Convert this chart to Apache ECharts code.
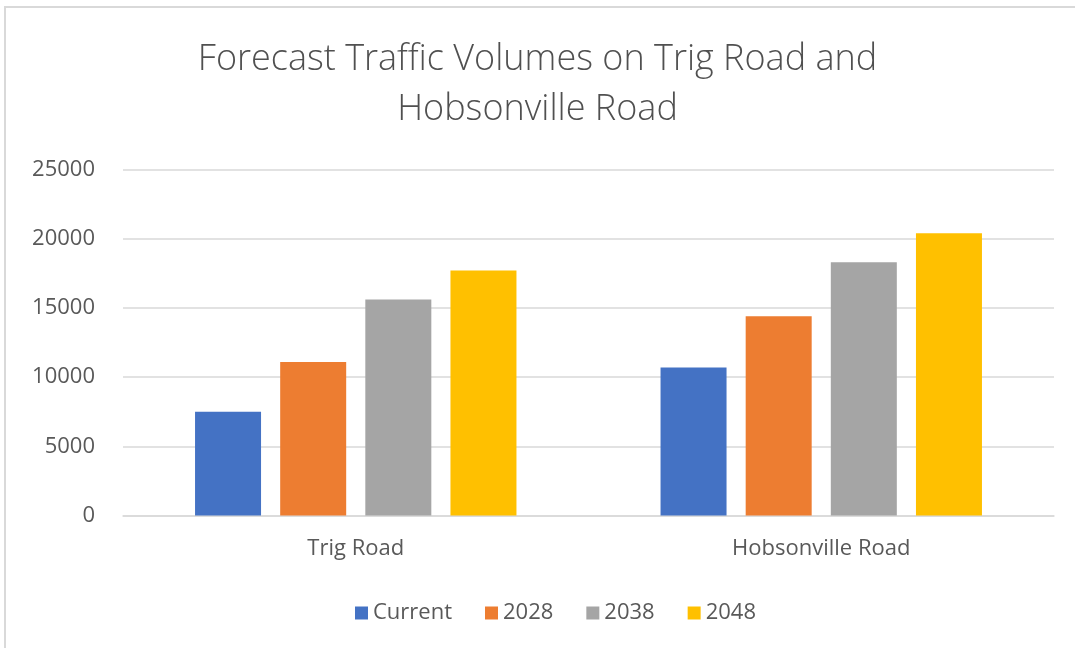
<!DOCTYPE html>
<html>
<head>
<meta charset="utf-8">
<script src="https://cdn.jsdelivr.net/npm/echarts@6/dist/echarts.min.js"></script>
<style>
  html, body { margin: 0; padding: 0; background: #ffffff; }
  #chart { width: 1075px; height: 648px; }
</style>
</head>
<body>
<div id="chart"></div>
<script>
// Forecast daily traffic volumes by road and horizon year
const categories = ['Trig Road', 'Hobsonville Road'];
const seriesNames = ['Current', '2028', '2038', '2048'];
const currentValues = [7500, 10700];
const values2028 = [11100, 14400];
const values2038 = [15600, 18300];
const values2048 = [17700, 20400];
const yTicks = [0, 5000, 10000, 15000, 20000, 25000];

const palette = ['#4472C4', '#ED7D31', '#A5A5A5', '#FFC000'];
const seriesValues = [currentValues, values2028, values2038, values2048];
const textColor = '#595959';
const font = 'Open Sans';

const chart = echarts.init(document.getElementById('chart'), null, { renderer: 'canvas' });

chart.setOption({
  animation: false,
  backgroundColor: '#ffffff',
  textStyle: { fontFamily: font },
  color: palette,
  title: {
    text: 'Forecast Traffic Volumes on Trig Road and\nHobsonville Road',
    left: 'center',
    top: 30,
    textStyle: {
      fontFamily: font,
      fontWeight: 300,
      fontSize: 36,
      lineHeight: 50,
      color: '#505050'
    }
  },
  graphic: [{
    type: 'rect',
    shape: { x: 5, y: 7, width: 1080, height: 660 },
    style: { fill: 'none', stroke: '#d9d9d9', lineWidth: 2 },
    silent: true
  }],
  legend: {
    data: seriesNames,
    top: 597,
    left: 350,
    icon: 'rect',
    itemWidth: 13,
    itemHeight: 13,
    itemGap: 33,
    textStyle: { fontFamily: font, fontSize: 22, color: textColor }
  },
  grid: {
    left: 123,
    right: 21,
    top: 169.5,
    bottom: 132.5
  },
  xAxis: {
    type: 'category',
    data: categories,
    axisLine: { show: true, lineStyle: { color: '#d9d9d9', width: 1.5 } },
    axisTick: { show: false },
    axisLabel: { fontFamily: font, fontSize: 22, color: textColor, margin: 22 }
  },
  yAxis: {
    type: 'value',
    min: yTicks[0],
    max: yTicks[yTicks.length - 1],
    interval: yTicks[1] - yTicks[0],
    axisLine: { show: false },
    axisTick: { show: false },
    splitLine: { lineStyle: { color: '#d9d9d9', width: 1.5 } },
    axisLabel: {
      fontFamily: font,
      fontSize: 22,
      color: textColor,
      margin: 28,
      formatter: v => String(v)
    }
  },
  series: seriesNames.map((name, i) => ({
    name: name,
    type: 'bar',
    data: seriesValues[i],
    barWidth: 66,
    barGap: '29%',
    itemStyle: { color: palette[i] }
  }))
});
</script>
</body>
</html>
